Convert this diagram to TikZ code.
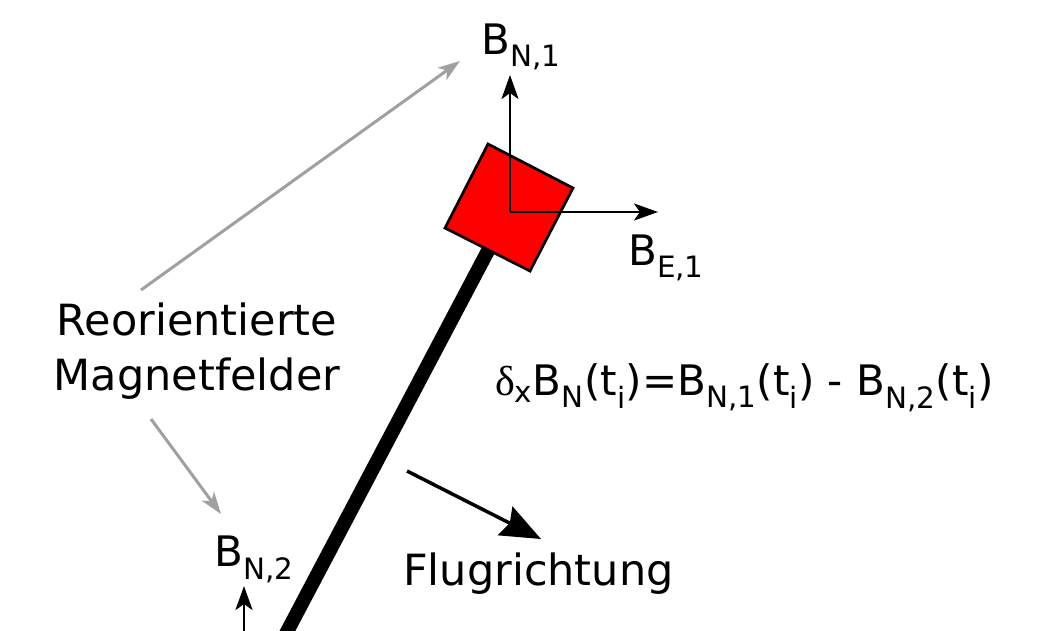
\documentclass[tikz,border=0pt]{standalone}
\usepackage{fontspec}
\setmainfont{DejaVu Sans}
\newfontfamily\greekfont{Liberation Serif}
\usetikzlibrary{arrows.meta}
\newcommand{\sbs}[1]{\textsubscript{#1}}
\begin{document}
\begin{tikzpicture}[x=1pt,y=-1pt,
  lbl/.style={font=\fontsize{42}{54}\selectfont, inner sep=0pt, anchor=base west},
  axis/.style={line width=2.7pt, -{Stealth[length=24pt,width=17pt,inset=6pt]}},
  grayarrow/.style={line width=3pt, draw={rgb,255:red,160;green,160;blue,160}, -{Stealth[length=22pt,width=15pt,inset=6pt]}},
  bigarrow/.style={line width=3.5pt, -{Stealth[length=40pt,width=32pt,inset=5pt]}}]
\useasboundingbox (0,0) rectangle (1061,630);
\clip (0,0) rectangle (1061,630);
% pole
\coordinate (poletop) at (500,228);
\coordinate (polebot) at (280,645);
\draw[line width=14pt] (poletop) -- (polebot);
% sensor square
\filldraw[fill=red, draw=black, line width=2.7pt] (488,144) -- (573,188) -- (530,271) -- (445,228) -- cycle;
% axes
\coordinate (o) at (510,212);
\coordinate (ntip) at (510,75);
\coordinate (etip) at (658,212);
\draw[axis] (o) -- (ntip);
\draw[axis] (o) -- (etip);
\node[lbl] (bn1) at (481,54) {B\sbs{N,1}};
\node[lbl] (be1) at (628,265) {B\sbs{E,1}};
% lower sensor
\coordinate (o2) at (244,640);
\coordinate (n2tip) at (244,586);
\draw[axis] (o2) -- (n2tip);
\node[lbl] (bn2) at (214,566) {B\sbs{N,2}};
% labels
\node[font=\fontsize{43}{55}\selectfont, align=center, inner sep=0pt] (reo) at (197,351) {Reorientierte\\Magnetfelder};
\coordinate (g1s) at (141,290);
\coordinate (g1e) at (460,61);
\coordinate (g2s) at (151,419);
\coordinate (g2e) at (221,514);
\draw[grayarrow] (g1s) -- (g1e);
\draw[grayarrow] (g2s) -- (g2e);
% formula
\node[lbl] (formula) at (495,395) {{\greekfont δ}\sbs{x}B\sbs{N}(t\sbs{i})=B\sbs{N,1}(t\sbs{i}) - B\sbs{N,2}(t\sbs{i})};
% flight direction
\coordinate (fs) at (407,471);
\coordinate (fe) at (541,539);
\draw[bigarrow] (fs) -- (fe);
\node[lbl, font=\fontsize{43}{54}\selectfont] (flug) at (403,585) {Flugrichtung};
\end{tikzpicture}
\end{document}
